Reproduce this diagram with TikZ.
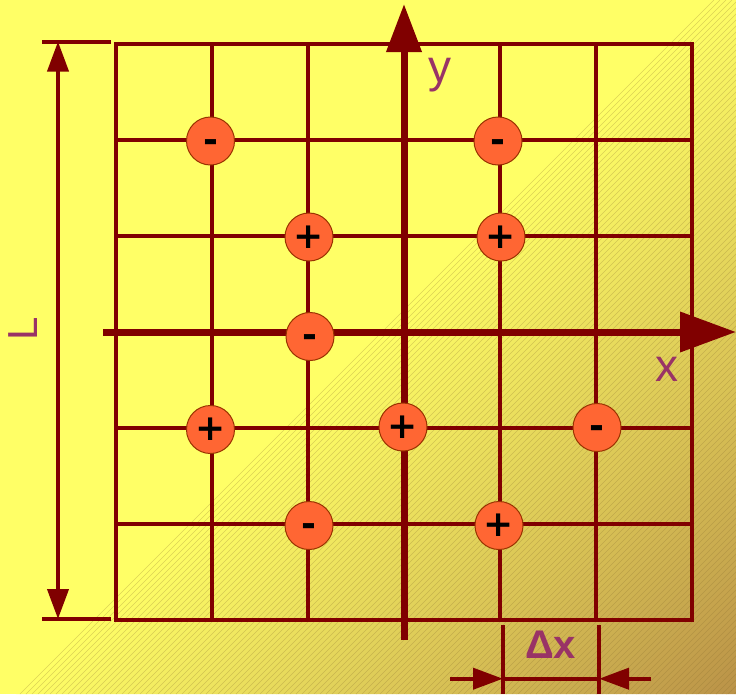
\documentclass[tikz,border=0pt]{standalone}
\usepackage{fontspec}
\usetikzlibrary{arrows.meta}
\newfontfamily\labfont{Liberation Sans}
\newfontfamily\signfont{DejaVu Sans}
\definecolor{yel}{HTML}{FFFF66}
\definecolor{tanc}{HTML}{BA9248}
\definecolor{hatchc}{HTML}{8A7030}
\definecolor{gridc}{HTML}{800000}
\definecolor{labc}{HTML}{993366}
\definecolor{chargefill}{HTML}{FF6633}
\definecolor{chargeedge}{HTML}{993300}
\tikzset{
  gridline/.style={draw=gridc, line width=3.7pt},
  axisline/.style={draw=gridc, line width=7pt},
  dimline/.style={draw=gridc, line width=4pt},
  dimtip/.style={-{Triangle[length=30pt,width=21pt]}},
  charge/.style={circle, minimum size=48pt, inner sep=0pt, fill=chargefill,
     draw=chargeedge, line width=1pt, text=black,
     font=\signfont\bfseries\fontsize{36}{40}\selectfont},
  lab/.style={text=labc, inner sep=0pt, anchor=base,
     font=\labfont\fontsize{46}{50}\selectfont}
}
\newcommand{\possign}{\raisebox{-2pt}{+}}
\newcommand{\negsign}{\raisebox{-2pt}{\vphantom{+}-}}
\begin{document}
\begin{tikzpicture}[x=1pt,y=-1pt]
\useasboundingbox (0,0) rectangle (736,694);
% background
\fill[yel] (0,0) rectangle (736,694);
\begin{scope}
\clip (0,0) rectangle (736,694);
\foreach \c in {710,720,...,1430}{
  \pgfmathsetmacro{\p}{min(100,(\c-710)/720*100)}
  \fill[tanc!\p!yel] (\c,0) -- (\c+11,0) -- (\c+11-694,694) -- (\c-694,694) -- cycle;
}
\foreach \c in {714,720,...,1436}{
  \draw[hatchc, line width=0.5pt, draw opacity=0.3] (\c,0) -- (\c-694,694);
}
\end{scope}
% grid
\draw[gridline] (116,44) rectangle (692,620);
\foreach \i in {1,...,5}{
  \draw[gridline] (116+96*\i,44) -- (116+96*\i,620);
  \draw[gridline] (116,44+96*\i) -- (692,44+96*\i);
}
% axes
\coordinate (ybot) at (404,640);
\coordinate (ytop) at (404,4);
\coordinate (xleft) at (103,332);
\coordinate (xright) at (736,332);
\draw[axisline, -{Triangle[length=48pt,width=34pt]}] (ybot) -- (ytop);
\draw[axisline, -{Triangle[length=56pt,width=39pt]}] (xleft) -- (xright);
\node[lab] (ylab) at (440,82) {y};
\node[lab] (xlab) at (667,381.5) {x};
% L dimension
\coordinate (Lt1) at (42,41.5);
\coordinate (Lt2) at (111,41.5);
\coordinate (Lb1) at (42,619);
\coordinate (Lb2) at (111,619);
\coordinate (Ltop) at (58,41.5);
\coordinate (Lbot) at (58,619);
\draw[dimline] (Lt1) -- (Lt2);
\draw[dimline] (Lb1) -- (Lb2);
\draw[dimline, {Triangle[length=30pt,width=21pt]}-{Triangle[length=30pt,width=21pt]}] (Lbot) -- (Ltop);
\node[lab, rotate=90, font=\labfont\fontsize{42}{46}\selectfont] (Llab) at (37,329) {L};
% Delta x dimension
\coordinate (d1t) at (503,625);
\coordinate (d1b) at (503,694);
\coordinate (d2t) at (599,625);
\coordinate (d2b) at (599,694);
\coordinate (dl) at (450,678.7);
\coordinate (dr) at (651,678.7);
\coordinate (dm1) at (503,678.7);
\coordinate (dm2) at (599,678.7);
\draw[dimline] (d1t) -- (d1b);
\draw[dimline] (d2t) -- (d2b);
\draw[dimline] (dm1) -- (dm2);
\draw[dimline, dimtip] (dl) -- (dm1);
\draw[dimline, dimtip] (dr) -- (dm2);
\node[lab, font=\labfont\bfseries\fontsize{40}{44}\selectfont] (dxlab) at (550.5,658) {Δx};
% charges
\node[charge] (q1) at (210.5,141) {\negsign};
\node[charge] (q2) at (498,141) {\negsign};
\node[charge] (q3) at (309,237) {\possign};
\node[charge] (q4) at (501,237) {\possign};
\node[charge] (q5) at (310,336.5) {\negsign};
\node[charge] (q6) at (210.5,429.5) {\possign};
\node[charge] (q7) at (403,427) {\possign};
\node[charge] (q8) at (597,427.5) {\negsign};
\node[charge] (q9) at (309,525.5) {\negsign};
\node[charge] (q10) at (499,525.5) {\possign};
\end{tikzpicture}
\end{document}
